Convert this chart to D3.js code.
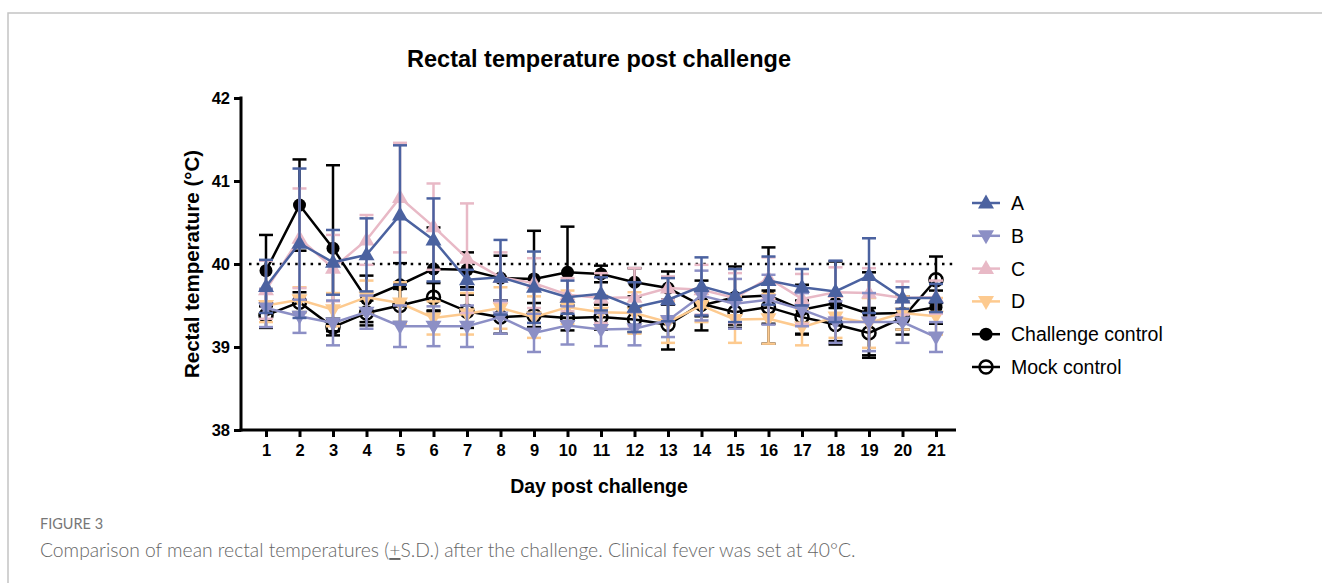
<!DOCTYPE html>
<html>
<head>
<meta charset="utf-8">
<title>Rectal temperature post challenge</title>
<script src="https://cdn.jsdelivr.net/npm/d3@7"></script>
<style>
  body { margin: 0; background: #fff; }
  svg text { font-family: "Liberation Sans", Arial, sans-serif; }
  .caption { font-family: Lato, "Open Sans", sans-serif; }
</style>
</head>
<body>
<script>
// values (mean and S.D. per day)
var days = d3.range(1, 22);
var yTicks = [38, 39, 40, 41, 42];

var aMean = [39.73, 40.25, 40.02, 40.11, 40.59, 40.29, 39.81, 39.84, 39.72, 39.60, 39.64, 39.48, 39.57, 39.73, 39.62, 39.80, 39.72, 39.67, 39.86, 39.59, 39.59];
var aSD   = [0.32, 0.90, 0.39, 0.44, 0.84, 0.50, 0.12, 0.45, 0.43, 0.20, 0.20, 0.30, 0.26, 0.35, 0.32, 0.29, 0.22, 0.37, 0.45, 0.13, 0.17];
var bMean = [39.47, 39.37, 39.29, 39.42, 39.25, 39.25, 39.25, 39.36, 39.17, 39.26, 39.21, 39.22, 39.32, 39.62, 39.52, 39.57, 39.45, 39.30, 39.30, 39.30, 39.12];
var bSD   = [0.23, 0.20, 0.27, 0.20, 0.25, 0.24, 0.25, 0.20, 0.23, 0.23, 0.20, 0.20, 0.20, 0.30, 0.30, 0.30, 0.20, 0.25, 0.35, 0.25, 0.18];
var cMean = [39.69, 40.31, 39.95, 40.29, 40.80, 40.45, 40.07, 39.84, 39.77, 39.63, 39.59, 39.60, 39.71, 39.69, 39.59, 39.83, 39.58, 39.66, 39.65, 39.59, 39.60];
var cSD   = [0.35, 0.60, 0.40, 0.30, 0.66, 0.52, 0.66, 0.30, 0.30, 0.20, 0.30, 0.35, 0.14, 0.30, 0.30, 0.25, 0.30, 0.30, 0.30, 0.20, 0.20];
var dMean = [39.50, 39.57, 39.45, 39.60, 39.53, 39.35, 39.40, 39.47, 39.36, 39.48, 39.42, 39.41, 39.30, 39.50, 39.33, 39.34, 39.24, 39.36, 39.29, 39.41, 39.37];
var dSD   = [0.20, 0.15, 0.20, 0.20, 0.25, 0.20, 0.25, 0.25, 0.25, 0.20, 0.20, 0.25, 0.25, 0.20, 0.28, 0.30, 0.22, 0.25, 0.30, 0.20, 0.22];
var chMean = [39.92, 40.71, 40.19, 39.58, 39.75, 39.94, 39.93, 39.83, 39.82, 39.90, 39.88, 39.78, 39.71, 39.50, 39.60, 39.62, 39.45, 39.53, 39.40, 39.41, 39.48];
var chSD   = [0.43, 0.55, 1.00, 0.28, 0.26, 0.50, 0.21, 0.27, 0.58, 0.55, 0.10, 0.17, 0.20, 0.30, 0.37, 0.58, 0.30, 0.50, 0.50, 0.20, 0.20];
var mkMean = [39.38, 39.54, 39.24, 39.41, 39.50, 39.60, 39.43, 39.36, 39.38, 39.35, 39.36, 39.33, 39.27, 39.52, 39.42, 39.48, 39.36, 39.27, 39.17, 39.35, 39.81];
var mkSD   = [0.15, 0.12, 0.10, 0.15, 0.20, 0.17, 0.20, 0.20, 0.15, 0.15, 0.15, 0.15, 0.30, 0.15, 0.15, 0.20, 0.20, 0.20, 0.30, 0.20, 0.28];
var feverLine = 40;

var series = [
  {name: "A", mean: aMean, sd: aSD, color: "#4b62a0", shape: "up", fill: "#4b62a0"},
  {name: "B", mean: bMean, sd: bSD, color: "#8c8fc5", shape: "down", fill: "#8c8fc5"},
  {name: "C", mean: cMean, sd: cSD, color: "#e8b9c6", shape: "up", fill: "#e8b9c6"},
  {name: "D", mean: dMean, sd: dSD, color: "#fdca8f", shape: "down", fill: "#fdca8f"},
  {name: "Challenge control", mean: chMean, sd: chSD, color: "#000", shape: "circle", fill: "#000"},
  {name: "Mock control", mean: mkMean, sd: mkSD, color: "#000", shape: "circle", fill: "none"}
];

var width = 1322, height = 583;
var svg = d3.select("body").append("svg")
  .attr("width", width).attr("height", height);

// page frame
svg.append("path")
  .attr("d", "M8," + height + "V13H" + width)
  .attr("fill", "none").attr("stroke", "#c4c4c4").attr("stroke-width", 1.5);

var x = d3.scaleLinear().domain([1, 21]).range([266, 936]);
var y = d3.scaleLinear().domain([38, 42]).range([430, 98]);
var axisLeft = 241, axisRight = 956;

// axes
var yAxis = svg.append("g").attr("transform", "translate(" + axisLeft + ",0)")
  .call(d3.axisLeft(y).tickValues(yTicks).tickSize(7).tickPadding(4).tickFormat(d3.format("d")));
var xAxis = svg.append("g").attr("transform", "translate(0,430)")
  .call(d3.axisBottom(x).tickValues(days).tickSize(7).tickPadding(7).tickFormat(d3.format("d")));
[yAxis, xAxis].forEach(function(g){
  g.select(".domain").remove();
  g.selectAll(".tick line").attr("stroke", "#000").attr("stroke-width", 3);
  g.selectAll(".tick text").attr("fill", "#000").style("font-size", "16.5px").style("font-weight", "bold");
});
svg.append("line").attr("x1", axisLeft).attr("x2", axisLeft).attr("y1", 96.5).attr("y2", 431.5)
  .attr("stroke", "#000").attr("stroke-width", 3);
svg.append("line").attr("x1", axisLeft - 1.5).attr("x2", axisRight).attr("y1", 430).attr("y2", 430)
  .attr("stroke", "#000").attr("stroke-width", 3);

// fever threshold
svg.append("line").attr("x1", axisLeft + 8).attr("x2", axisRight).attr("y1", y(feverLine)).attr("y2", y(feverLine))
  .attr("stroke", "#000").attr("stroke-width", 2.5).attr("stroke-dasharray", "2.5,5.2");

function markerPath(shape) {
  if (shape === "up") return "M0,-8.5L8,5.5L-8,5.5Z";
  if (shape === "down") return "M0,8.5L8,-5.5L-8,-5.5Z";
  return d3.symbol(d3.symbolCircle, Math.PI * 6.5 * 6.5)();
}

var line = d3.line().x(function(d){ return x(d.day); }).y(function(d){ return y(d.v); });

// draw last series first so A sits on top
series.slice().reverse().forEach(function(s){
  var pts = days.map(function(dd, i){ return {day: dd, v: s.mean[i], sd: s.sd[i]}; });
  var g = svg.append("g");
  var eb = g.selectAll(".eb").data(pts).enter().append("g");
  eb.append("line")
    .attr("x1", function(d){ return x(d.day); }).attr("x2", function(d){ return x(d.day); })
    .attr("y1", function(d){ return y(d.v + d.sd); }).attr("y2", function(d){ return y(d.v - d.sd); })
    .attr("stroke", s.color).attr("stroke-width", 2.5);
  [1, -1].forEach(function(sign){
    eb.append("line")
      .attr("x1", function(d){ return x(d.day) - 7; }).attr("x2", function(d){ return x(d.day) + 7; })
      .attr("y1", function(d){ return y(d.v + sign * d.sd); }).attr("y2", function(d){ return y(d.v + sign * d.sd); })
      .attr("stroke", s.color).attr("stroke-width", 2.5);
  });
  g.append("path").datum(pts).attr("d", line)
    .attr("fill", "none").attr("stroke", s.color).attr("stroke-width", 2.5);
  g.selectAll(".m").data(pts).enter().append("path")
    .attr("transform", function(d){ return "translate(" + x(d.day) + "," + y(d.v) + ")"; })
    .attr("d", markerPath(s.shape))
    .attr("fill", s.fill).attr("stroke", s.color).attr("stroke-width", s.fill === "none" ? 2.5 : 0);
});

// legend
var legend = svg.append("g");
series.forEach(function(s, i){
  var ly = 203 + i * 32.8;
  legend.append("line").attr("x1", 972).attr("x2", 1000).attr("y1", ly).attr("y2", ly)
    .attr("stroke", s.color).attr("stroke-width", 2.5);
  legend.append("path").attr("transform", "translate(986," + ly + ")")
    .attr("d", markerPath(s.shape))
    .attr("fill", s.fill).attr("stroke", s.color).attr("stroke-width", s.fill === "none" ? 2.5 : 0);
  legend.append("text").attr("x", 1011).attr("y", ly + 7)
    .style("font-size", "19.5px").attr("fill", "#000").text(s.name);
});

// titles
svg.append("text").attr("x", 599).attr("y", 67).attr("text-anchor", "middle")
  .style("font-size", "23.5px").style("font-weight", "bold").text("Rectal temperature post challenge");
svg.append("text").attr("transform", "translate(199,264) rotate(-90)").attr("text-anchor", "middle")
  .style("font-size", "20.5px").style("font-weight", "bold").text("Rectal temperature (\u00B0C)");
svg.append("text").attr("x", 599).attr("y", 493).attr("text-anchor", "middle")
  .style("font-size", "19.5px").style("font-weight", "bold").text("Day post challenge");

// figure caption
svg.append("text").attr("class", "caption").attr("x", 40).attr("y", 529)
  .style("font-size", "14.5px").attr("fill", "#777").text("FIGURE 3");
svg.append("text").attr("class", "caption").attr("x", 40).attr("y", 557)
  .style("font-size", "19.3px").style("font-weight", 300).attr("fill", "#666")
  .html("Comparison of mean rectal temperatures (<tspan text-decoration=\"underline\">+</tspan>S.D.) after the challenge. Clinical fever was set at 40\u00B0C.");
</script>
</body>
</html>
